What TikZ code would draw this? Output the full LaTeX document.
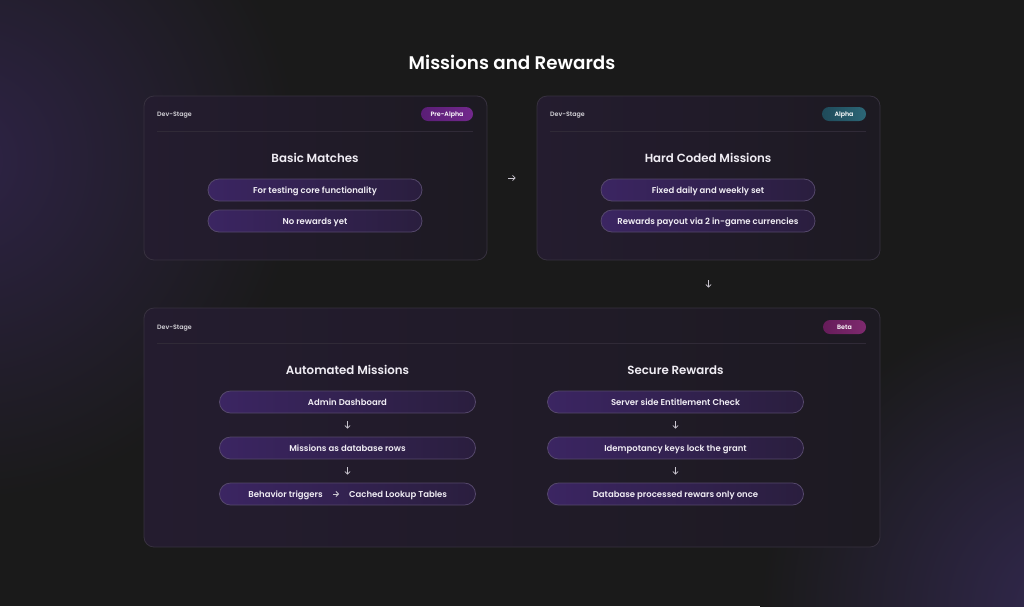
\documentclass[tikz,border=0pt]{standalone}
\usepackage{fontspec}
\setmainfont{Poppins}[UprightFont=* Medium, BoldFont=* SemiBold]
\usetikzlibrary{arrows.meta}

\definecolor{bg}{HTML}{1A1A1A}
\definecolor{glowA}{HTML}{2E2346}
\definecolor{glowB}{HTML}{32284F}
\definecolor{cardA}{HTML}{241C2F}
\definecolor{cardB}{HTML}{1D1A22}
\definecolor{cardline}{HTML}{37313F}
\definecolor{sepline}{HTML}{302A37}
\definecolor{pillA}{HTML}{3B2562}
\definecolor{pillB}{HTML}{2A1E3E}
\definecolor{pillline}{HTML}{55486B}
\definecolor{arrowgrey}{HTML}{CAC6D0}
\definecolor{txt}{HTML}{F0EDF4}
\definecolor{stagetxt}{HTML}{D2D0D6}
\definecolor{preA}{HTML}{5A1E76}
\definecolor{preB}{HTML}{72288C}
\definecolor{alphaA}{HTML}{1F4A5A}
\definecolor{alphaB}{HTML}{2C6676}
\definecolor{betaA}{HTML}{661C5A}
\definecolor{betaB}{HTML}{7E2A6E}

\begin{document}
\begin{tikzpicture}[x=1pt, y=-1pt,
    card/.style={draw=cardline, line width=0.8pt, rounded corners=10pt, left color=cardA, right color=cardB, inner sep=0},
    pill/.style={draw=pillline, line width=0.8pt, rounded corners=11pt, left color=pillA, right color=pillB,
                 minimum width=214pt, minimum height=22pt, inner sep=0, text height=6pt, text depth=0pt,
                 text=txt, font=\fontsize{8.5}{10}\selectfont\bfseries},
    widepill/.style={pill, minimum width=256pt},
    label/.style={inner sep=0, text height=6pt, text depth=0pt, text=txt, font=\fontsize{8.5}{10}\selectfont\bfseries},
    badge/.style={rounded corners=7pt, minimum height=14pt, inner sep=0, text height=4.5pt, text depth=0pt,
                  text=white, font=\fontsize{6.3}{7.5}\selectfont\bfseries},
    stage/.style={anchor=west, inner sep=0, text height=4.5pt, text depth=0pt, text=stagetxt, font=\fontsize{6.3}{7.5}\selectfont\bfseries},
    heading/.style={inner sep=0, text height=8.3pt, text depth=0pt, text=txt, font=\fontsize{11.8}{14}\selectfont\bfseries},
    flow/.style={draw=arrowgrey, line width=0.8pt, -{Straight Barb[length=2.5pt,width=5.2pt]}}]

    % Background and glows
    \useasboundingbox (0,0) rectangle (1024,606);
    \fill[bg] (0,0) rectangle (1024,606);
    \begin{scope}
        \clip (0,0) rectangle (1024,606);
        \shade[inner color=glowA, outer color=bg] (-40,160) circle (340);
        \shade[inner color=glowB, outer color=bg] (1070,610) circle (310);
    \end{scope}

    % Title
    \node[inner sep=0, text height=13pt, text depth=0pt, text=white, font=\fontsize{18.3}{22}\selectfont\bfseries] (title) at (512,63) {Missions and Rewards};

    % Cards
    \node[card, minimum width=343pt, minimum height=164pt] (c1) at (315.5,178) {};
    \node[card, minimum width=343pt, minimum height=164pt] (c2) at (708.5,178) {};
    \node[card, minimum width=736pt, minimum height=239pt] (c3) at (512,427.5) {};

    % Card headers
    \node[stage] (s1) at (157,114) {Dev-Stage};
    \node[stage] (s2) at (550,114) {Dev-Stage};
    \node[stage] (s3) at (157,327) {Dev-Stage};
    \draw[sepline, line width=0.6pt] (157,131) -- (473,131);
    \draw[sepline, line width=0.6pt] (550,131) -- (866,131);
    \draw[sepline, line width=0.6pt] (157,343) -- (866,343);
    \node[badge, left color=preA, right color=preB, minimum width=52pt] (b1) at (447,114) {Pre-Alpha};
    \node[badge, left color=alphaA, right color=alphaB, minimum width=44pt] (b2) at (844,114) {Alpha};
    \node[badge, left color=betaA, right color=betaB, minimum width=43pt] (b3) at (844.5,327) {Beta};

    % Pre-Alpha
    \node[heading] (h1) at (315,158) {Basic Matches};
    \node[pill] (p11) at (315,190) {For testing core functionality};
    \node[pill] (p12) at (315,221) {No rewards yet};

    % Alpha
    \node[heading] (h2) at (708,158) {Hard Coded Missions};
    \node[pill] (p21) at (708,190) {Fixed daily and weekly set};
    \node[pill] (p22) at (708,221) {Rewards payout via 2 in-game currencies};

    % Beta, left column
    \node[heading] (h3) at (347.5,370) {Automated Missions};
    \node[widepill] (am1) at (347.5,402) {Admin Dashboard};
    \node[widepill] (am2) at (347.5,448) {Missions as database rows};
    \node[widepill] (am3) at (347.5,494) {};
    \node[label, anchor=east] (bt) at (323,494) {Behavior triggers};
    \node[label, anchor=west] (cl) at (349,494) {Cached Lookup Tables};

    % Beta, right column
    \node[heading] (h4) at (675.5,370) {Secure Rewards};
    \node[widepill] (sr1) at (675.5,402) {Server side Entitlement Check};
    \node[widepill] (sr2) at (675.5,448) {Idempotancy keys lock the grant};
    \node[widepill] (sr3) at (675.5,494) {Database processed rewars only once};

    % Arrows
    \draw[flow, shorten <=21pt, shorten >=21pt] (c1.east) -- (c2.west);
    \draw[flow, shorten <=20pt, shorten >=20pt] (c2.south) -- (c2.south |- c3.north);
    \draw[flow, shorten <=8pt, shorten >=8pt] (am1) -- (am2);
    \draw[flow, shorten <=8pt, shorten >=8pt] (am2) -- (am3);
    \draw[flow, shorten <=8pt, shorten >=8pt] (sr1) -- (sr2);
    \draw[flow, shorten <=8pt, shorten >=8pt] (sr2) -- (sr3);
    \draw[flow, shorten <=10pt, shorten >=10pt] (bt.east) -- (cl.west);

\end{tikzpicture}
\end{document}
